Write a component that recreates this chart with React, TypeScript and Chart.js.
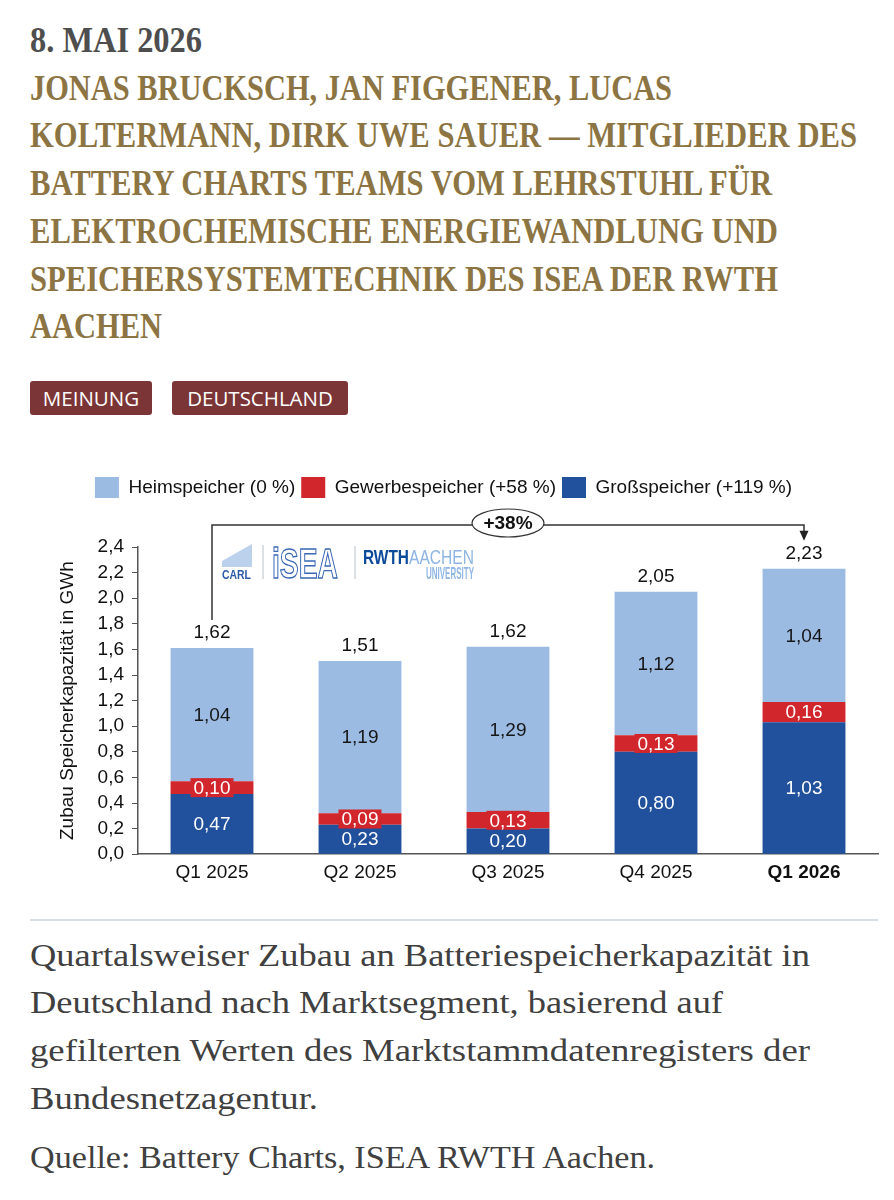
import React, { useEffect, useLayoutEffect, useRef } from "react";
import { Chart, registerables } from "chart.js";

Chart.register(...registerables);

// ---------- data ----------
const categories = ["Q1 2025", "Q2 2025", "Q3 2025", "Q4 2025", "Q1 2026"];
const grossValues = [0.47, 0.23, 0.2, 0.8, 1.03];
const gewerbeValues = [0.1, 0.09, 0.13, 0.13, 0.16];
const heimValues = [1.04, 1.19, 1.29, 1.12, 1.04];
const totalValues = [1.62, 1.51, 1.62, 2.05, 2.23];
const seriesLabels = ["Großspeicher (+119 %)", "Gewerbespeicher (+58 %)", "Heimspeicher (0 %)"];
const yAxisMax = 2.4;
const yAxisStep = 0.2;
const growthLabel = "+38%";
const yTitle = "Zubau Speicherkapazität in GWh";

const headerDate = "8. MAI 2026";
const authorLines = [
  "JONAS BRUCKSCH, JAN FIGGENER, LUCAS",
  "KOLTERMANN, DIRK UWE SAUER — MITGLIEDER DES",
  "BATTERY CHARTS TEAMS VOM LEHRSTUHL FÜR",
  "ELEKTROCHEMISCHE ENERGIEWANDLUNG UND",
  "SPEICHERSYSTEMTECHNIK DES ISEA DER RWTH",
  "AACHEN",
];
const tags = ["MEINUNG", "DEUTSCHLAND"];
const captionLines = [
  "Quartalsweiser Zubau an Batteriespeicherkapazität in",
  "Deutschland nach Marktsegment, basierend auf",
  "gefilterten Werten des Marktstammdatenregisters der",
  "Bundesnetzagentur.",
];
const sourceLine = "Quelle: Battery Charts, ISEA RWTH Aachen.";

// ---------- styles ----------
const COL_HEIM = "#9bbbe2";
const COL_GEW = "#d1262c";
const COL_GROSS = "#21519d";
const SANS = '"Liberation Sans", Arial, Helvetica, sans-serif';
const SERIF = '"Liberation Serif", "Times New Roman", serif';
const FS = 19;

const fmt2 = (v: number) => v.toFixed(2).replace(".", ",");
const fmt1 = (v: number) => v.toFixed(1).replace(".", ",");

function FitLine(props: {
  text: string; x: number; cy: number; w: number; fs: number;
  color: string; weight?: string | number; family: string;
}) {
  const ref = useRef<HTMLSpanElement>(null);
  useLayoutEffect(() => {
    const el = ref.current;
    if (!el) return;
    el.style.transform = "none";
    const nat = el.getBoundingClientRect().width;
    if (nat > 0) el.style.transform = `scaleX(${props.w / nat})`;
  }, [props.text, props.w]);
  return (
    <span
      ref={ref}
      style={{
        position: "absolute",
        left: props.x,
        top: props.cy - props.fs / 2,
        fontSize: props.fs,
        lineHeight: `${props.fs}px`,
        height: props.fs,
        whiteSpace: "nowrap",
        transformOrigin: "0 0",
        color: props.color,
        fontWeight: props.weight ?? "normal",
        fontFamily: props.family,
        display: "inline-block",
      }}
    >
      {props.text}
    </span>
  );
}

function drawFit(ctx: CanvasRenderingContext2D, text: string, x: number, y: number, w: number, font: string, color: string, stroke = false) {
  ctx.save();
  ctx.font = font;
  const nat = ctx.measureText(text).width;
  ctx.translate(x, y);
  ctx.scale(w / nat, 1);
  ctx.textAlign = "left";
  ctx.textBaseline = "alphabetic";
  if (stroke) {
    ctx.strokeStyle = color;
    ctx.lineWidth = 1.4;
    ctx.strokeText(text, 0, 0);
  } else {
    ctx.fillStyle = color;
    ctx.fillText(text, 0, 0);
  }
  ctx.restore();
}

const labelsPlugin = {
  id: "segLabels",
  afterDatasetsDraw(chart: any) {
    const ctx: CanvasRenderingContext2D = chart.ctx;
    ctx.save();
    ctx.font = `${FS}px ${SANS}`;
    ctx.textAlign = "center";
    ctx.textBaseline = "middle";
    chart.data.datasets.forEach((ds: any, di: number) => {
      const meta = chart.getDatasetMeta(di);
      meta.data.forEach((bar: any, i: number) => {
        const { x, y, base } = bar.getProps(["x", "y", "base"], true);
        const cy = (y + base) / 2;
        const txt = fmt2(ds.data[i]);
        if (di === 1) {
          const w = ctx.measureText(txt).width + 6;
          ctx.fillStyle = COL_GEW;
          ctx.fillRect(x - w / 2, cy - 9.5, w, 19);
        }
        ctx.fillStyle = di === 2 ? "#161616" : "#ffffff";
        ctx.fillText(txt, x, cy + 1);
      });
    });
    // totals
    const topMeta = chart.getDatasetMeta(2);
    topMeta.data.forEach((bar: any, i: number) => {
      ctx.fillStyle = "#111";
      ctx.fillText(fmt2(totalValues[i]), bar.x, bar.y - 15);
    });

    // bracket
    const a = chart.chartArea;
    const b0 = topMeta.data[0];
    const b4 = topMeta.data[topMeta.data.length - 1];
    const yLine = a.top - 22;
    ctx.strokeStyle = "#333";
    ctx.lineWidth = 1.5;
    ctx.beginPath();
    ctx.moveTo(b0.x, b0.y - 28);
    ctx.lineTo(b0.x, yLine);
    ctx.lineTo(b4.x, yLine);
    ctx.lineTo(b4.x, b4.y - 36);
    ctx.stroke();
    ctx.fillStyle = "#222";
    ctx.beginPath();
    ctx.moveTo(b4.x - 4.5, b4.y - 38);
    ctx.lineTo(b4.x + 4.5, b4.y - 38);
    ctx.lineTo(b4.x, b4.y - 28);
    ctx.closePath();
    ctx.fill();
    const mx = (b0.x + b4.x) / 2;
    ctx.beginPath();
    ctx.ellipse(mx, yLine - 2, 36, 14, 0, 0, Math.PI * 2);
    ctx.fillStyle = "#fff";
    ctx.fill();
    ctx.lineWidth = 1.2;
    ctx.stroke();
    ctx.fillStyle = "#111";
    ctx.font = `bold ${FS}px ${SANS}`;
    ctx.fillText(growthLabel, mx, yLine - 1);
    ctx.restore();
  },
};

const logoPlugin = {
  id: "logos",
  afterDraw(chart: any) {
    const ctx: CanvasRenderingContext2D = chart.ctx;
    const a = chart.chartArea;
    const ox = a.left; // 138
    const oy = a.top; // 546
    ctx.save();
    // CARL
    ctx.fillStyle = "#bcd2ec";
    ctx.beginPath();
    ctx.moveTo(ox + 84, oy + 14);
    ctx.lineTo(ox + 114, oy - 3);
    ctx.lineTo(ox + 114, oy + 20);
    ctx.lineTo(ox + 84, oy + 20);
    ctx.closePath();
    ctx.fill();
    drawFit(ctx, "CARL", ox + 84, oy + 32, 29, `bold 13px ${SANS}`, "#2d5aa6");
    // dividers
    ctx.strokeStyle = "#b8c2cc";
    ctx.lineWidth = 1;
    ctx.beginPath();
    ctx.moveTo(ox + 125, oy - 2);
    ctx.lineTo(ox + 125, oy + 32);
    ctx.moveTo(ox + 217, oy - 1);
    ctx.lineTo(ox + 217, oy + 32);
    ctx.stroke();
    // iSEA outline
    drawFit(ctx, "iSEA", ox + 134, oy + 31, 66, `bold 42px ${SANS}`, "#3a68b4", true);
    // RWTH AACHEN UNIVERSITY
    drawFit(ctx, "RWTH", ox + 225, oy + 17, 46, `bold 21px ${SANS}`, "#0b4a9a");
    drawFit(ctx, "AACHEN", ox + 271, oy + 17, 65, `20px ${SANS}`, "#8fb6e3");
    drawFit(ctx, "UNIVERSITY", ox + 288, oy + 32, 48, `bold 17px ${SANS}`, "#8fb6e3");
    ctx.restore();
  },
};

function ChartCanvas() {
  const ref = useRef<HTMLCanvasElement>(null);
  useEffect(() => {
    if (!ref.current) return;
    const yTicks: number[] = [];
    for (let i = 0; i <= Math.round(yAxisMax / yAxisStep); i++) yTicks.push(+(i * yAxisStep).toFixed(1));
    const chart = new Chart(ref.current, {
      type: "bar",
      data: {
        labels: categories,
        datasets: [
          { label: seriesLabels[0], data: grossValues, backgroundColor: COL_GROSS, borderWidth: 0 },
          { label: seriesLabels[1], data: gewerbeValues, backgroundColor: COL_GEW, borderWidth: 0 },
          { label: seriesLabels[2], data: heimValues, backgroundColor: COL_HEIM, borderWidth: 0 },
        ],
      },
      options: {
        animation: false,
        responsive: false,
        devicePixelRatio: 1,
        datasets: { bar: { categoryPercentage: 1, barPercentage: 0.56 } },
        layout: { padding: { left: 9, right: 16, top: 21, bottom: 9 } },
        plugins: {
          legend: {
            display: true,
            position: "top",
            reverse: true,
            labels: {
              boxWidth: 24,
              boxHeight: 21,
              padding: 6,
              color: "#111",
              font: { family: SANS, size: FS },
            },
          },
          subtitle: {
            display: true,
            text: "",
            weight: 500,
            font: { size: 10 },
            padding: { top: 0, bottom: 27 },
          } as any,
          tooltip: { enabled: false },
        },
        scales: {
          x: {
            stacked: true,
            grid: { display: false, drawTicks: false },
            border: { display: true, color: "#555", width: 1.5 },
            ticks: {
              color: "#111",
              padding: 7,
              font: (c: any) => ({ family: SANS, size: FS, weight: c.index === categories.length - 1 ? "bold" : "normal" }),
            },
          },
          y: {
            stacked: true,
            min: 0,
            max: yAxisMax,
            afterBuildTicks: (s: any) => {
              s.ticks = yTicks.map((v) => ({ value: v }));
            },
            afterFit: (s: any) => {
              s.width = 129;
            },
            ticks: {
              autoSkip: false,
              color: "#111",
              padding: 8,
              font: { family: SANS, size: FS },
              callback: (v: any) => fmt1(Number(v)),
            },
            grid: { display: true, drawOnChartArea: false, drawTicks: true, tickLength: 6, color: "#555", lineWidth: 1 },
            border: { display: true, color: "#555", width: 1.5 },
            title: {
              display: true,
              text: yTitle,
              color: "#111",
              font: { family: SANS, size: FS },
              padding: { top: 47, bottom: 0 },
            },
          },
        },
      },
      plugins: [labelsPlugin, logoPlugin],
    } as any);
    return () => chart.destroy();
  }, []);
  return (
    <canvas
      ref={ref}
      width={894}
      height={450}
      style={{ position: "absolute", left: 0, top: 450, width: 894, height: 450 }}
    />
  );
}

const authorCenters = [88, 135, 183, 231, 279, 326];
const authorWidths = [642, 827, 742, 748, 748, 132];
const captionCenters = [955, 1002, 1050, 1098];
const captionWidths = [780, 693, 780, 288];

export default function App() {
  return (
    <div style={{ position: "absolute", left: 0, top: 0, width: 894, height: 1200, background: "#fff", overflow: "hidden" }}>
      <FitLine text={headerDate} x={30} cy={40} w={172} fs={35} color="#4e4e4e" weight="bold" family={SERIF} />
      {authorLines.map((t, i) => (
        <FitLine key={i} text={t} x={30} cy={authorCenters[i]} w={authorWidths[i]} fs={35} color="#8c7543" weight="bold" family={SERIF} />
      ))}
      {tags.map((t, i) => (
        <div
          key={t}
          style={{
            position: "absolute",
            left: i === 0 ? 30 : 172,
            top: 381,
            width: i === 0 ? 122 : 176,
            height: 34,
            background: "#7b3536",
            borderRadius: 3,
            color: "#fff",
            fontFamily: '"Open Sans", sans-serif',
            fontSize: 20.5,
            lineHeight: "34px",
            textAlign: "center",
          }}
        >
          {t}
        </div>
      ))}
      <ChartCanvas />
      <div style={{ position: "absolute", left: 30, top: 919, width: 848, height: 2, background: "#d5dee4" }} />
      {captionLines.map((t, i) => (
        <FitLine key={i} text={t} x={30} cy={captionCenters[i]} w={captionWidths[i]} fs={32} color="#404040" family={SERIF} />
      ))}
      <FitLine text={sourceLine} x={30} cy={1157} w={625} fs={32} color="#404040" family={SERIF} />
    </div>
  );
}
